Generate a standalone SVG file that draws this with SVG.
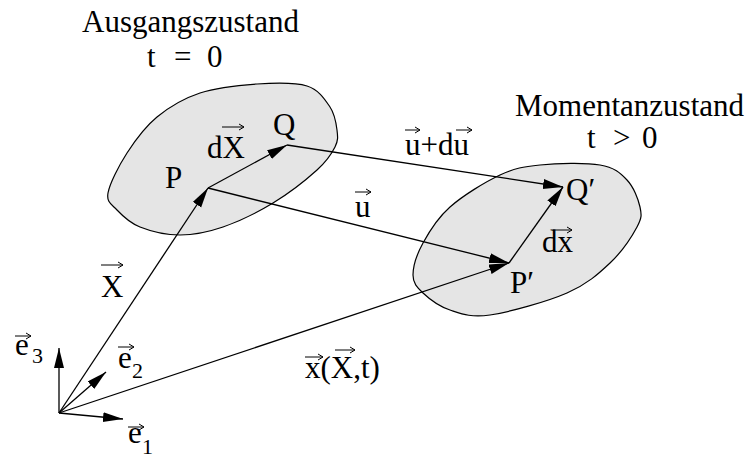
<svg xmlns="http://www.w3.org/2000/svg" width="753" height="459" viewBox="0 0 753 459">
<defs>
<marker id="ah" markerUnits="userSpaceOnUse" markerWidth="22" markerHeight="12" refX="20" refY="5" orient="auto"><path d="M0,0 L20,5 L0,10 z" fill="#000"/></marker>
<style>
text{font-family:"Liberation Serif","Times New Roman",serif;font-size:31px;fill:#000}
.sub{font-size:22px}
.blob{fill:#e5e5e5;stroke:#000;stroke-width:1.2}
.con{fill:none;stroke:#000;stroke-width:1.3;marker-end:url(#ah)}
.acc{fill:none;stroke:#000;stroke-width:1}
</style>
</defs>
<rect width="753" height="459" fill="#fff"/>
<g id="state-initial">
<path class="blob" d="M108,193 C109.67,183.5 118.83,165.67 127,153 C135.17,140.33 144.83,127 157,117 C169.17,107 183.33,98.5 200,93 C216.67,87.5 239.17,85.170 257,84 C274.83,82.83 294.83,82.17 307,86 C319.17,89.83 325,99.67 330,107 C335,114.33 336.17,123.33 337,130 C337.83,136.67 338.33,140.33 335,147 C331.67,153.67 327.33,160.67 317,170 C306.67,179.33 288.67,193.5 273,203 C257.33,212.5 238.5,221.67 223,227 C207.5,232.33 193.83,235 180,235 C166.17,235 150.5,231.17 140,227 C129.5,222.83 122.33,215.67 117,210 C111.67,204.33 106.33,202.5 108,193 Z"/>
<text x="82" y="32">Ausgangszustand</text>
<text y="67"><tspan x="147">t</tspan><tspan x="174">=</tspan><tspan x="207">0</tspan></text>
</g>
<g id="state-current">
<path class="blob" d="M413,275 C413,266.67 416.83,254.33 423,243 C429.17,231.67 437.17,218.33 450,207 C462.83,195.67 485,182 500,175 C515,168 523.33,166.67 540,165 C556.67,163.33 585.5,162.5 600,165 C614.5,167.5 620.33,173 627,180 C633.67,187 638.33,199.17 640,207 C641.67,214.83 642,217.67 637,227 C632,236.33 621.67,252 610,263 C598.33,274 587,284.33 567,293 C547,301.67 509.5,312.17 490,315 C470.5,317.83 461.17,313.67 450,310 C438.83,306.33 429.17,298.83 423,293 C416.83,287.17 413,283.33 413,275 Z"/>
<text x="515" y="116">Momentanzustand</text>
<text y="148"><tspan x="587">t</tspan><tspan x="613">&gt;</tspan><tspan x="642">0</tspan></text>
</g>
<g id="connectors">
<line class="con" x1="59" y1="413" x2="59" y2="348"/>
<line class="con" x1="59" y1="413" x2="123" y2="419"/>
<line class="con" x1="59" y1="413" x2="106" y2="372"/>
<line class="con" x1="59" y1="413" x2="208" y2="188"/>
<line class="con" x1="59" y1="413" x2="509" y2="263"/>
<line class="con" x1="208" y1="188" x2="287" y2="145"/>
<line class="con" x1="208" y1="188" x2="509" y2="263"/>
<line class="con" x1="287" y1="145" x2="563" y2="187"/>
<line class="con" x1="509" y1="263" x2="563" y2="187"/>
</g>
<g id="basis">
<text x="15" y="355">e</text><text class="sub" x="32" y="363">3</text>
<path class="acc" d="M15,336 H31 M26,333 L31,336 L26,339"/>
<text x="118" y="368">e</text><text class="sub" x="132" y="378">2</text>
<path class="acc" d="M118,347 H134 M129,344 L134,347 L129,350"/>
<text x="128" y="443">e</text><text class="sub" x="142" y="454">1</text>
<path class="acc" d="M128,427 H144 M139,424 L144,427 L139,430"/>
</g>
<g id="point-P"><text x="165" y="188">P</text></g>
<g id="point-Q"><text x="273" y="135">Q</text></g>
<g id="point-P2"><text x="510" y="293">P′</text></g>
<g id="point-Q2"><text x="566" y="200">Q′</text></g>
<g id="labels">
<text x="101" y="297">X</text>
<path class="acc" d="M101,265 H123 M118,262 L123,265 L118,268"/>
<text x="207" y="158">dX</text>
<path class="acc" d="M222,127 H244 M239,124 L244,127 L239,130"/>
<text x="355" y="217">u</text>
<path class="acc" d="M355,192 H371 M366,189 L371,192 L366,195"/>
<text x="405" y="155">u+du</text>
<path class="acc" d="M405,130 H420 M415,127 L420,130 L415,133 M456,130 H472 M467,127 L472,130 L467,133"/>
<text x="542" y="252">dx</text>
<path class="acc" d="M553,230 H572 M567,227 L572,230 L567,233"/>
<text x="305" y="378">x(X,t)</text>
<path class="acc" d="M305,357 H323 M318,354 L323,357 L318,360 M335,350 H355 M350,347 L355,350 L350,353"/>
</g>
</svg>
